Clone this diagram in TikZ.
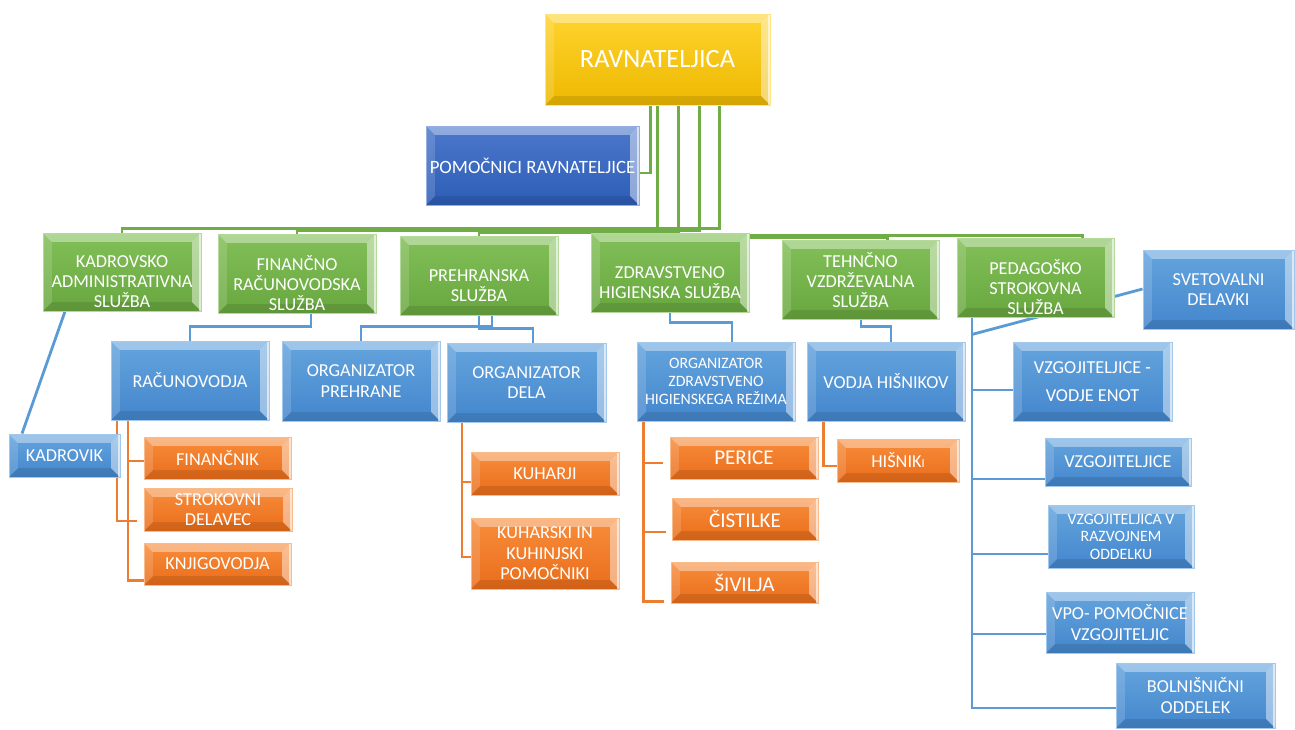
\documentclass[tikz,border=0pt]{standalone}
\usepackage{fontspec}
\setmainfont{Carlito}
\pgfdeclarelayer{bg}
\pgfsetlayers{bg,main}
\definecolor{goldT}{HTML}{FFD42E}
\definecolor{goldB}{HTML}{EDB800}
\definecolor{grnT}{HTML}{82BF58}
\definecolor{grnB}{HTML}{68A73F}
\definecolor{bluT}{HTML}{64A4DD}
\definecolor{bluB}{HTML}{4486CD}
\definecolor{dbT}{HTML}{4C78CB}
\definecolor{dbB}{HTML}{2D5DB7}
\definecolor{orT}{HTML}{F78D3C}
\definecolor{orB}{HTML}{EA6D1A}
\definecolor{gline}{HTML}{70AD47}
\definecolor{bline}{HTML}{5B9BD5}
\definecolor{oline}{HTML}{ED7D31}
\newcommand\bevelpic{%
  \coordinate (bnw) at (path picture bounding box.north west);
  \coordinate (bne) at (path picture bounding box.north east);
  \coordinate (bsw) at (path picture bounding box.south west);
  \coordinate (bse) at (path picture bounding box.south east);
  \fill[white,opacity=.38] (bnw) -- (bne) -- ([shift={(-5pt,-5pt)}]bne) -- ([shift={(5pt,-5pt)}]bnw) -- cycle;
  \fill[white,opacity=.15] (bnw) -- ([shift={(5pt,-5pt)}]bnw) -- ([shift={(5pt,5pt)}]bsw) -- (bsw) -- cycle;
  \fill[white,opacity=.45] (bne) -- (bse) -- ([shift={(-5pt,5pt)}]bse) -- ([shift={(-5pt,-5pt)}]bne) -- cycle;
  \fill[black,opacity=.10] (bsw) -- (bse) -- ([shift={(-5pt,5pt)}]bse) -- ([shift={(5pt,5pt)}]bsw) -- cycle;
  \fill[white,opacity=.6] ([xshift=-1.2pt]bne) rectangle (bse);
}
\tikzset{
  span/.style n args={4}{minimum width={(#3-#1)*0.02cm}, minimum height={(#4-#2)*0.02cm},
    at={({(#1+#3)/2},{(#2+#4)/2})}},
  bx/.style={inner sep=0pt, align=center, text=white, anchor=center,
    font=\fontsize{10.4}{11.6}\selectfont, line width=0.5pt, path picture={\bevelpic}},
  goldbox/.style={bx, top color=goldT, bottom color=goldB, draw=goldT!60!white},
  grnbox/.style={bx, top color=grnT, bottom color=grnB, draw=grnT!60!white},
  blubox/.style={bx, top color=bluT, bottom color=bluB, draw=bluT!60!white},
  dbbox/.style={bx, top color=dbT, bottom color=dbB, draw=dbT!60!white},
  orbox/.style={bx, top color=orT, bottom color=orB, draw=orT!60!white},
  gtxt/.style={inner sep=0pt, align=center, text=white, font=\fontsize{10.4}{11.4}\selectfont},
  gl/.style={draw=gline, line width=1.7pt},
  bl/.style={draw=bline, line width=1.6pt},
  ol/.style={draw=oline, line width=1.7pt},
}
\begin{document}
\begin{tikzpicture}[x=0.02cm,y=-0.02cm]
\useasboundingbox (0,0) rectangle (1295,730);
% top
\node[goldbox, span={545}{14}{770}{105}, font=\fontsize{15}{18}\selectfont] (rav) {RAVNATELJICA};
\node[dbbox, span={426}{126}{639}{205}, font=\fontsize{10.7}{12}\selectfont] (pom) {POMOČNICI RAVNATELJICE};
% green services
\node[grnbox, span={43}{233}{201}{311}] (kadr) {};
\node[gtxt] (kadrT) at ([yshift=-5.5pt]kadr.center) {KADROVSKO\\ADMINISTRATIVNA\\SLUŽBA};
\node[grnbox, span={218}{234}{376}{313}] (fin) {};
\node[gtxt] (finT) at ([yshift=-5.5pt]fin.center) {FINANČNO\\RAČUNOVODSKA\\SLUŽBA};
\node[grnbox, span={400}{236}{558}{315}] (preh) {};
\node[gtxt] (prehT) at ([yshift=-5.5pt]preh.center) {PREHRANSKA\\SLUŽBA};
\node[grnbox, span={591}{233}{749}{312}] (zdr) {};
\node[gtxt] (zdrT) at ([yshift=-5.5pt]zdr.center) {ZDRAVSTVENO\\HIGIENSKA SLUŽBA};
\node[grnbox, span={782}{240}{939}{319}] (teh) {};
\node[gtxt] (tehT) at ([yshift=-0.5pt]teh.center) {TEHNČNO\\VZDRŽEVALNA\\SLUŽBA};
\node[grnbox, span={957}{238}{1114}{317}] (ped) {};
\node[gtxt] (pedT) at ([yshift=-5.5pt]ped.center) {PEDAGOŠKO\\STROKOVNA\\SLUŽBA};
\node[blubox, span={1143}{250}{1294}{329}] (svet) {SVETOVALNI\\DELAVKI};
% blue second level
\node[blubox, span={111}{341}{269}{420}] (rac) {RAČUNOVODJA};
\node[blubox, span={282}{341}{440}{421}] (orgp) {ORGANIZATOR\\PREHRANE};
\node[blubox, span={447}{343}{606}{422}] (orgd) {ORGANIZATOR\\DELA};
\node[blubox, span={637}{342}{795}{421}, font=\fontsize{9}{10.2}\selectfont] (orgz) {ORGANIZATOR\\ZDRAVSTVENO\\HIGIENSKEGA REŽIMA};
\node[blubox, span={807}{342}{965}{421}] (vod) {VODJA HIŠNIKOV};
\node[blubox, span={1013}{342}{1172}{421}, font=\fontsize{10.4}{16}\selectfont] (ve) {VZGOJITELJICE -\\VODJE ENOT};
\node[blubox, span={1045}{438}{1191}{486}] (vz) {VZGOJITELJICE};
\node[blubox, span={1048}{505}{1194}{568}, font=\fontsize{9}{10}\selectfont] (vr) {VZGOJITELJICA V\\RAZVOJNEM\\ODDELKU};
\node[blubox, span={1046}{592}{1194}{653}] (vpo) {VPO- POMOČNICE\\VZGOJITELJIC};
\node[blubox, span={1116}{663}{1275}{728}] (bol) {BOLNIŠNIČNI\\ODDELEK};
\node[blubox, span={9}{434}{120}{477}] (kdv) {KADROVIK};
% orange
\node[orbox, span={144}{437}{291}{479}] (fink) {FINANČNIK};
\node[orbox, span={144}{488}{292}{531}] (str) {STROKOVNI\\DELAVEC};
\node[orbox, span={144}{543}{291}{585}] (knj) {KNJIGOVODJA};
\node[orbox, span={471}{452}{619}{495}] (kuh) {KUHARJI};
\node[orbox, span={471}{518}{619}{589}] (kuhp) {KUHARSKI IN\\KUHINJSKI\\POMOČNIKI};
\node[orbox, span={670}{437}{818}{479}, font=\fontsize{12}{14}\selectfont] (per) {PERICE};
\node[orbox, span={672}{498}{818}{540}, font=\fontsize{12}{14}\selectfont] (cis) {ČISTILKE};
\node[orbox, span={671}{562}{818}{603}, font=\fontsize{12}{14}\selectfont] (siv) {ŠIVILJA};
\node[orbox, span={837}{439}{959}{482}] (his) {HIŠNIK{\fontsize{7}{8}\selectfont I}};
\begin{pgfonlayer}{bg}
% green connectors
\draw[gl] (rav.south -| 650,0) |- (pom.east |- 0,173);
\draw[gl] (rav.south -| 719,0) -- ++(0,123) -| (kadr.north);
\draw[gl] (rav.south -| 699,0) -- ++(0,125) -| (fin.north);
\draw[gl] (rav.south -| 678,0) -- ++(0,127) -| (preh.north);
\draw[gl] (rav.south -| 657,0) -- (zdr.north -| 657,0);
\draw[gl] (rav.south -| 678,0) -- ++(0,132) -| (teh.north -| 887,0);
\draw[gl] (rav.south -| 657,0) -- ++(0,130) -| (ped.north -| 1082,0);
% blue connectors
\draw[bl] (fin.south -| 311,0) -- ++(0,13) -| (rac.north);
\draw[bl] (preh.south -| 492,0) -- ++(0,11) -| (orgp.north);
\draw[bl] (preh.south -| 479,0) -- ++(0,13) -| (orgd.north -| 533,0);
\draw[bl] (zdr.south -| 670,0) -- ++(0,10) -| (orgz.north -| 732,0);
\draw[bl] (teh.south -| 861,0) -- ++(0,7) -| (vod.north -| 891,0);
\draw[bl] (kadr.south -| 65,0) -- (kdv.north -| 22,0);
\draw[bl] (ped.south -| 972,0) |- (ve.west |- 0,390);
\draw[bl] (ped.south -| 972,0) |- (vz.west |- 0,479);
\draw[bl] (ped.south -| 972,0) |- (vr.west |- 0,554);
\draw[bl] (ped.south -| 972,0) |- (vpo.west |- 0,634);
\draw[bl] (ped.south -| 972,0) |- (bol.west |- 0,708);
\draw[bl] (ped.south -| 972,0) ++(0,17) -- (svet.west |- 0,289);
% orange connectors
\draw[ol] (rac.south -| 128,0) |- (knj.west |- 0,580);
\draw[ol] (rac.south -| 128,0) |- (fink.west |- 0,461);
\draw[ol] (rac.south -| 117,0) |- ([xshift=-3.5pt]str.west |- 0,521);
\draw[ol] (orgd.south -| 462,0) |- (kuh.west |- 0,482);
\draw[ol] (orgd.south -| 462,0) |- (kuhp.west |- 0,557);
\draw[ol] (orgz.south -| 643,0) |- ([xshift=-4pt]per.west |- 0,463);
\draw[ol] (orgz.south -| 643,0) |- ([xshift=-3pt]cis.west |- 0,532);
\draw[ol] (orgz.south -| 643,0) |- ([xshift=-4pt]siv.west |- 0,601);
\draw[ol] (vod.south -| 823,0) |- (his.west |- 0,466);
\end{pgfonlayer}
\end{tikzpicture}
\end{document}
